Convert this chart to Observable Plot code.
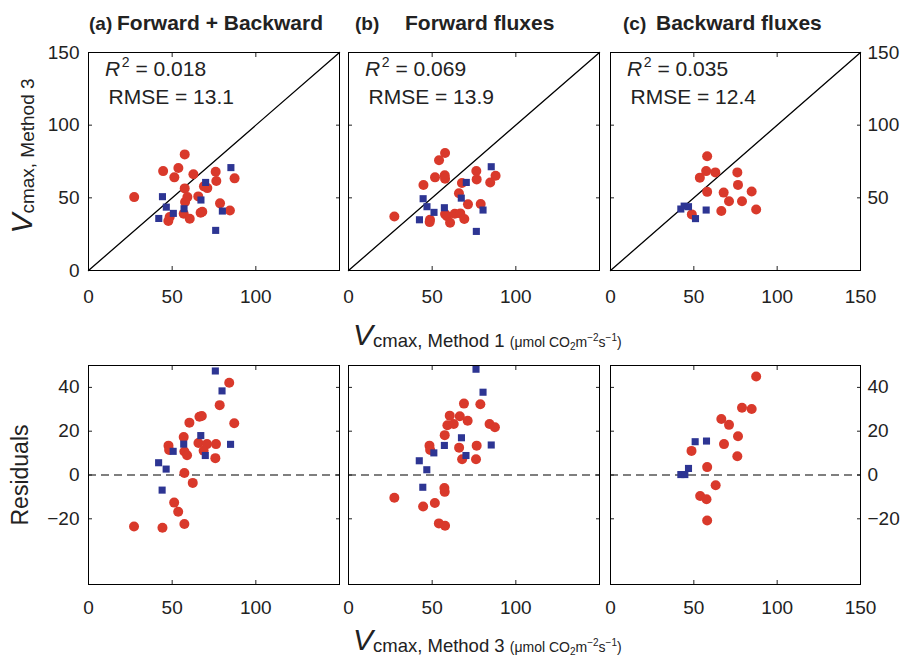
<!DOCTYPE html>
<html>
<head>
<meta charset="utf-8">
<script src="https://cdn.jsdelivr.net/npm/d3@7"></script>
<script src="https://cdn.jsdelivr.net/npm/@observablehq/plot@0.6"></script>
<style>
  html, body { margin: 0; padding: 0; background: #fff; }
  #root { position: relative; width: 904px; height: 659px; background: #fff; overflow: hidden;
          font-family: "Liberation Sans", Arial, Helvetica, sans-serif; }
  #root > .pnl { position: absolute; }
  #overlay { position: absolute; left: 0; top: 0; pointer-events: none; }
</style>
</head>
<body>
<div id="root"></div>
<script>
// ---------- data ----------
const panelTitles = ["Forward + Backward", "Forward fluxes", "Backward fluxes"];
const panelLetters = ["(a)", "(b)", "(c)"];
const r2Values = ["0.018", "0.069", "0.035"];
const rmseValues = ["13.1", "13.9", "12.4"];

// top row: [Vcmax Method 1, Vcmax Method 3]
const aTopRed = [[57.5,79.9],[44.6,68.4],[53.7,70.5],[51.3,64.1],[62.7,66.2],[76.0,68.0],[76.4,61.6],[87.3,63.4],[27.3,50.5],[57.5,56.5],[69.0,57.9],[71.0,56.7],[59.1,50.5],[65.6,51.0],[57.7,47.1],[78.6,46.2],[56.9,39.0],[60.5,35.6],[67.0,39.7],[68.0,40.4],[84.5,41.3],[48.5,36.8],[47.7,34.0]];
const aTopBlue = [[85.1,70.8],[70.0,60.6],[44.2,50.8],[67.2,48.5],[46.5,43.6],[50.7,39.3],[57.1,42.5],[42.0,35.8],[80.0,40.9],[76.0,27.6]];
const bTopRed = [[57.7,80.9],[54.1,75.8],[44.8,58.8],[51.7,64.1],[57.5,65.5],[57.7,63.2],[76.4,68.5],[76.6,62.7],[87.9,65.2],[84.7,60.6],[67.8,60.2],[66.0,53.1],[71.4,45.5],[79.0,45.7],[27.4,37.2],[48.7,34.9],[48.5,33.3],[57.7,38.8],[58.9,37.4],[60.7,32.8],[63.5,39.0],[66.8,39.3],[69.2,35.4]];
const bTopBlue = [[85.3,71.4],[70.4,60.6],[44.6,49.4],[67.4,49.8],[46.9,43.9],[57.3,43.2],[51.1,40.0],[42.4,34.9],[80.4,41.6],[76.4,26.9]];
const cTopRed = [[58.0,78.6],[57.4,68.4],[62.9,67.5],[53.6,63.9],[76.1,67.5],[76.5,58.9],[58.0,54.1],[67.9,53.6],[84.7,54.3],[71.1,47.7],[78.9,47.7],[66.5,40.9],[87.4,42.0],[48.8,38.6]];
const cTopBlue = [[42.2,42.3],[44.2,44.3],[46.8,43.9],[57.4,41.6],[51.0,35.7]];

// bottom row: [Vcmax, residual]
const aResRed = [[84.1,42.1],[78.4,31.9],[66.3,26.6],[67.7,26.9],[60.3,23.9],[87.1,23.6],[56.9,17.3],[47.8,13.4],[48.2,11.4],[65.7,14.6],[70.8,14.1],[76.2,14.1],[57.3,10.7],[58.9,9.0],[68.8,11.1],[75.8,7.7],[57.3,0.9],[62.3,-3.6],[51.2,-12.6],[53.6,-16.8],[57.3,-22.4],[27.2,-23.5],[44.2,-24.1]];
const aResBlue = [[75.8,47.5],[79.8,38.4],[67.1,18.0],[56.9,14.1],[84.9,14.0],[50.6,10.8],[69.8,8.9],[41.9,5.6],[46.4,2.7],[44.0,-6.9]];
const bResRed = [[69.0,32.6],[78.8,32.3],[60.5,27.1],[66.5,26.8],[59.1,22.7],[62.9,23.3],[71.2,24.8],[84.3,23.3],[87.5,21.8],[57.5,18.2],[48.4,13.4],[48.8,11.4],[66.1,12.5],[76.6,13.4],[67.9,7.2],[76.2,7.2],[57.3,-5.9],[57.5,-7.7],[27.4,-10.4],[44.6,-14.4],[51.6,-12.8],[54.0,-22.1],[57.7,-23.2]];
const bResBlue = [[76.2,48.3],[80.4,37.8],[67.5,17.0],[57.3,13.5],[85.3,13.7],[51.0,10.1],[70.2,8.9],[42.3,6.5],[46.8,2.4],[44.4,-5.6]];
const cResRed = [[87.4,45.0],[78.9,30.7],[84.7,30.1],[66.5,25.6],[71.1,22.9],[76.5,17.7],[68.1,14.1],[48.6,11.0],[76.1,8.6],[58.0,3.6],[63.1,-4.7],[53.8,-9.6],[57.6,-11.1],[58.0,-20.8]];
const cResBlue = [[50.8,15.2],[57.6,15.5],[46.8,3.0],[42.2,0.2],[44.6,0.2]];

// ticks / domains
const xDomain = [0, 150];
const topYDomain = [0, 150];
const resYDomain = [-50, 50];
const xTickLabels = [0, 50, 100];
const xTickLabelsLast = [0, 50, 100, 150];
const topYTickLabels = [0, 50, 100, 150];
const topYTickLabelsRight = [50, 100, 150];
const resYTickLabels = [-20, 0, 20, 40];
const xInnerTicks = [50, 100];
const topYInnerTicks = [50, 100];
const resYInnerTicks = [-20, 0, 20, 40];
const oneToOne = [0, 150];
const zeroLine = [0];

const RED = "#d9392b";
const BLUE = "#2d3593";
const FONT = "'Liberation Sans', Arial, Helvetica, sans-serif";
const TICKFS = 19;

const root = document.getElementById("root");

function panel(o) {
  const marks = [];
  if (o.diag) marks.push(Plot.line(oneToOne, {x: d => d, y: d => d, stroke: "#000", strokeWidth: 1.3}));
  if (o.dashed) marks.push(Plot.ruleY(zeroLine, {stroke: "#000", strokeWidth: 1.1, strokeDasharray: "8,5"}));
  marks.push(
    Plot.dot(o.red, {x: d => d[0], y: d => d[1], r: 5, fill: RED}),
    Plot.dot(o.blue, {x: d => d[0], y: d => d[1], r: 4, symbol: "square", fill: BLUE}),
    // inward ticks on all four sides
    Plot.axisX(xInnerTicks, {anchor: "bottom", tickSize: 4, dy: -4, fill: "none", label: null}),
    Plot.axisX(xInnerTicks, {anchor: "top", tickSize: 4, dy: 4, fill: "none", label: null}),
    Plot.axisY(o.yInner, {anchor: "left", tickSize: 4, dx: 4, fill: "none", label: null}),
    Plot.axisY(o.yInner, {anchor: "right", tickSize: 4, dx: -4, fill: "none", label: null}),
    // tick labels
    Plot.axisX(o.xLabels, {anchor: "bottom", tickSize: 0, tickPadding: o.xPad, fontSize: TICKFS, label: null})
  );
  if (o.yLeft) marks.push(Plot.axisY(o.yLeft, {anchor: "left", tickSize: 0, tickPadding: 9, fontSize: TICKFS, label: null}));
  if (o.yRight) marks.push(Plot.axisY(o.yRight, {anchor: "right", tickSize: 0, tickPadding: 7, fontSize: TICKFS, label: null}));
  marks.push(Plot.frame({stroke: "#000", strokeWidth: 1}));

  const chart = Plot.plot({
    width: o.width,
    height: 300,
    marginLeft: o.mL,
    marginRight: o.mR,
    marginTop: 30,
    marginBottom: 300 - 30 - o.fh,
    x: {domain: xDomain, axis: null},
    y: {domain: o.yDomain, axis: null},
    style: {fontFamily: FONT, fontSize: TICKFS + "px", overflow: "visible", background: "transparent", color: "#222"},
    marks
  });
  chart.classList.add("pnl");
  chart.style.left = o.left + "px";
  chart.style.top = o.top + "px";
  root.appendChild(chart);
}

// top row (frame y 52..270)
panel({left: 0, top: 22, width: 345, mL: 88, mR: 6, fh: 218, yDomain: topYDomain, diag: true,
       red: aTopRed, blue: aTopBlue, yInner: topYInnerTicks, xLabels: xTickLabels, xPad: 19, yLeft: topYTickLabels});
panel({left: 345, top: 22, width: 258, mL: 3, mR: 4, fh: 218, yDomain: topYDomain, diag: true,
       red: bTopRed, blue: bTopBlue, yInner: topYInnerTicks, xLabels: xTickLabels, xPad: 19});
panel({left: 603, top: 22, width: 301, mL: 7, mR: 44, fh: 218, yDomain: topYDomain, diag: true,
       red: cTopRed, blue: cTopBlue, yInner: topYInnerTicks, xLabels: xTickLabelsLast, xPad: 19, yRight: topYTickLabelsRight});
// bottom row (frame y 365..584)
panel({left: 0, top: 335, width: 345, mL: 88, mR: 6, fh: 219, yDomain: resYDomain, dashed: true,
       red: aResRed, blue: aResBlue, yInner: resYInnerTicks, xLabels: xTickLabels, xPad: 16, yLeft: resYTickLabels});
panel({left: 345, top: 335, width: 258, mL: 3, mR: 4, fh: 219, yDomain: resYDomain, dashed: true,
       red: bResRed, blue: bResBlue, yInner: resYInnerTicks, xLabels: xTickLabels, xPad: 16});
panel({left: 603, top: 335, width: 301, mL: 7, mR: 44, fh: 219, yDomain: resYDomain, dashed: true,
       red: cResRed, blue: cResBlue, yInner: resYInnerTicks, xLabels: xTickLabelsLast, xPad: 16, yRight: resYTickLabels});

// ---------- text overlay ----------
const ns = "http://www.w3.org/2000/svg";
const ov = document.createElementNS(ns, "svg");
ov.setAttribute("id", "overlay");
ov.setAttribute("width", 904);
ov.setAttribute("height", 659);
ov.style.fontFamily = FONT;
root.appendChild(ov);

function txt(x, y, parts, attrs = {}) {
  const t = document.createElementNS(ns, "text");
  t.setAttribute("x", x);
  t.setAttribute("y", y);
  t.setAttribute("fill", "#222");
  for (const [k, v] of Object.entries(attrs)) t.setAttribute(k, v);
  for (const p of parts) {
    const s = document.createElementNS(ns, "tspan");
    s.textContent = p.t;
    if (p.fs) s.setAttribute("font-size", p.fs);
    if (p.it) s.setAttribute("font-style", "italic");
    if (p.dy) s.setAttribute("dy", p.dy);
    if (p.dx) s.setAttribute("dx", p.dx);
    s.setAttribute("fill", "#222");
    t.appendChild(s);
  }
  ov.appendChild(t);
  return t;
}

// panel titles
const letterX = [89, 355, 623];
const titleX = [117, 405, 656];
for (let i = 0; i < 3; i++) {
  txt(letterX[i], 30, [{t: panelLetters[i]}], {"font-size": 19, "font-weight": "bold"});
  txt(titleX[i], 30, [{t: panelTitles[i]}], {"font-size": 21, "font-weight": "bold"});
}

// R² and RMSE annotations
const frameLeft = [88, 348, 610];
for (let i = 0; i < 3; i++) {
  txt(frameLeft[i] + 17, 76, [
    {t: "R", it: true, fs: 21},
    {t: "2", fs: 14, dy: -9, dx: 1.5},
    {t: "= " + r2Values[i], fs: 21, dy: 9, dx: 6}
  ]);
  txt(frameLeft[i] + 20.5, 103.5, [{t: "RMSE = " + rmseValues[i], fs: 21}]);
}

// y-axis titles
txt(0, 0, [
  {t: "V", it: true, fs: 30},
  {t: "cmax, Method 3", fs: 19, dy: 1.6}
], {transform: "translate(32,156) rotate(-90)", "text-anchor": "middle"});
txt(0, 0, [{t: "Residuals", fs: 23}], {transform: "translate(28,475) rotate(-90)", "text-anchor": "middle"});

// x-axis titles
function xTitle(y, method) {
  txt(353, y, [
    {t: "V", it: true, fs: 30},
    {t: "cmax, Method " + method + " ", fs: 18.5, dy: 2},
    {t: "(μmol CO", fs: 14},
    {t: "2", fs: 10, dy: 3},
    {t: "m", fs: 14, dy: -3},
    {t: "−2", fs: 10, dy: -6},
    {t: "s", fs: 14, dy: 6},
    {t: "−1", fs: 10, dy: -6},
    {t: ")", fs: 14, dy: 6}
  ]);
}
xTitle(345, 1);
xTitle(650, 3);
</script>
</body>
</html>
